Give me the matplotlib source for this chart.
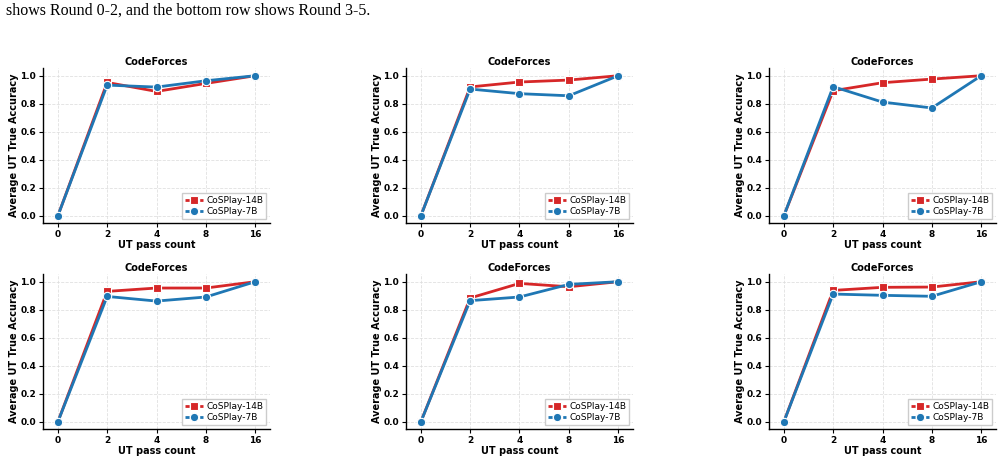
import matplotlib
matplotlib.use("Agg")
import matplotlib.pyplot as plt
from matplotlib.lines import Line2D
import numpy as np

plt.rcParams['font.family'] = ['DejaVu Sans']

x_labels = ["0", "2", "4", "8", "16"]
series_names = ["CoSPlay-14B", "CoSPlay-7B"]
title = "CodeForces"

# Round 0..5, values per UT pass count
r14 = [
    [0.0, 0.952, 0.888, 0.945, 1.0],
    [0.0, 0.920, 0.955, 0.969, 1.0],
    [0.0, 0.893, 0.950, 0.976, 1.0],
    [0.0, 0.931, 0.955, 0.955, 1.0],
    [0.0, 0.884, 0.988, 0.964, 1.0],
    [0.0, 0.938, 0.960, 0.962, 1.0],
]
r7 = [
    [0.0, 0.933, 0.919, 0.964, 1.0],
    [0.0, 0.905, 0.872, 0.857, 1.0],
    [0.0, 0.922, 0.812, 0.770, 1.0],
    [0.0, 0.895, 0.862, 0.891, 1.0],
    [0.0, 0.865, 0.891, 0.981, 1.0],
    [0.0, 0.912, 0.903, 0.896, 1.0],
]

red = "#d62728"
blue = "#1f77b4"

W, H = 1003, 458
fig = plt.figure(figsize=(W / 100, H / 100), dpi=100)

fig.text(6 / W, 1 - 15 / H, "shows Round 0-2, and the bottom row shows Round 3-5.",
         family="Liberation Serif", fontsize=11.5, va="baseline", ha="left")

lefts = [43, 406, 769]
tops = [68, 274]
aw, ah = 227, 155

for i in range(6):
    row, col = divmod(i, 3)
    l = lefts[col]
    t = tops[row]
    ax = fig.add_axes([l / W, 1 - (t + ah) / H, aw / W, ah / H])
    xs = np.arange(len(x_labels))
    ax.plot(xs, r14[i], color=red, lw=2.0, marker="s", ms=5.5, mec="white", mew=0.8, zorder=3)
    ax.plot(xs, r7[i], color=blue, lw=2.0, marker="o", ms=6, mec="white", mew=0.8, zorder=4)
    ax.set_xlim(-0.3, 4.3)
    ax.set_ylim(-0.05, 1.055)
    ax.set_xticks(xs)
    ax.set_xticklabels(x_labels)
    ax.set_yticks([0.0, 0.2, 0.4, 0.6, 0.8, 1.0])
    ax.set_yticklabels(["0.0", "0.2", "0.4", "0.6", "0.8", "1.0"])
    ax.grid(True, ls="--", lw=0.6, color="#dddddd", alpha=0.9)
    ax.set_axisbelow(True)
    for s in ["top", "right"]:
        ax.spines[s].set_visible(False)
    for s in ["left", "bottom"]:
        ax.spines[s].set_linewidth(1.0)
    ax.tick_params(labelsize=6.5, length=3, width=0.8, pad=2)
    for lab in ax.get_xticklabels() + ax.get_yticklabels():
        lab.set_fontweight("bold")
    ax.set_title(title, fontsize=7, fontweight="bold", pad=2)
    ax.set_xlabel("UT pass count", fontsize=7, fontweight="bold", labelpad=1)
    ax.set_ylabel("Average UT True Accuracy", fontsize=7, fontweight="bold", labelpad=1)
    handles = [
        Line2D([0], [0], color=red, lw=2.0, ls=(0.5, (2.0, 0.9)), marker="s", ms=5.5, mec="white", mew=0.8),
        Line2D([0], [0], color=blue, lw=2.0, ls=(0.5, (2.0, 0.9)), marker="o", ms=6, mec="white", mew=0.8),
    ]
    ax.legend(handles, series_names, loc="lower right", fontsize=6.5, frameon=True,
              framealpha=1.0, edgecolor="#cccccc", fancybox=False, handlelength=1.9,
              borderpad=0.35, labelspacing=0.25, handletextpad=0.4, borderaxespad=0.4)

fig.savefig("out.png", dpi=100)
